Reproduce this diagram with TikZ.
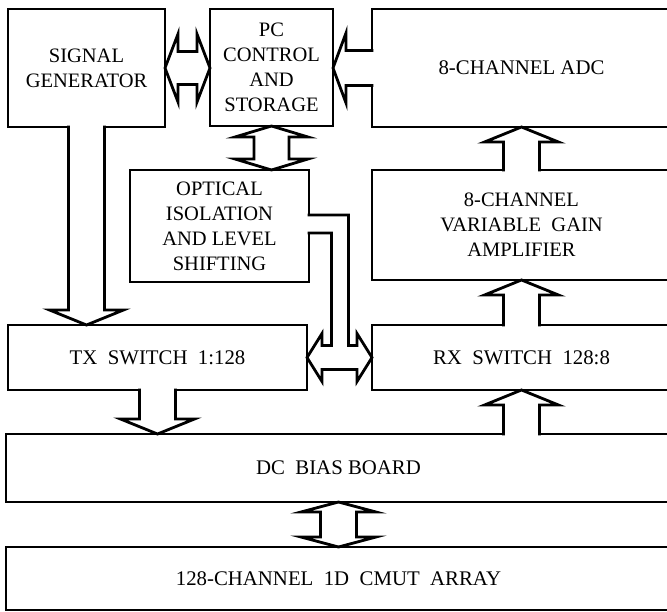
\documentclass[tikz,border=0pt]{standalone}
\usepackage{fontspec}
\setmainfont{Liberation Serif}
\usetikzlibrary{positioning,calc}

% block arrows: stem half-width / head half-width / head length
\tikzset{
  fatdim/.code args={#1/#2/#3}{%
    \pgfmathsetmacro\fatra{veclen(#3,#1)}%
    \pgfmathsetmacro\fatta{atan(#1/#3)}%
    \pgfmathsetmacro\fatrb{veclen(#3,#2)}%
    \pgfmathsetmacro\fattb{atan(#2/#3)}%
    \pgfmathsetmacro\fatrs{veclen(1.4,#1)}%
    \pgfmathsetmacro\fatts{180-atan(#1/1.4)}},
  fatdim=18/37/15,
  fatone/.style={line width=2.8pt, fill=white, to path={
    ($(\tikztostart)!\fatrs pt!\fatts:(\tikztotarget)$)
    -- ($(\tikztotarget)!\fatra pt!-\fatta:(\tikztostart)$)
    -- ($(\tikztotarget)!\fatrb pt!-\fattb:(\tikztostart)$)
    -- (\tikztotarget)
    -- ($(\tikztotarget)!\fatrb pt!\fattb:(\tikztostart)$)
    -- ($(\tikztotarget)!\fatra pt!\fatta:(\tikztostart)$)
    -- ($(\tikztostart)!\fatrs pt!-\fatts:(\tikztotarget)$)}},
  fattwo/.style={line width=2.8pt, fill=white, to path={
    -- ($(\tikztostart)!\fatrb pt!\fattb:(\tikztotarget)$)
    -- ($(\tikztostart)!\fatra pt!\fatta:(\tikztotarget)$)
    -- ($(\tikztotarget)!\fatra pt!-\fatta:(\tikztostart)$)
    -- ($(\tikztotarget)!\fatrb pt!-\fattb:(\tikztostart)$)
    -- (\tikztotarget)
    -- ($(\tikztotarget)!\fatrb pt!\fattb:(\tikztostart)$)
    -- ($(\tikztotarget)!\fatra pt!\fatta:(\tikztostart)$)
    -- ($(\tikztostart)!\fatra pt!-\fatta:(\tikztotarget)$)
    -- ($(\tikztostart)!\fatrb pt!-\fattb:(\tikztotarget)$)
    -- cycle}}
}

\begin{document}
\begin{tikzpicture}[
  x=1pt, y=-1pt,
  box/.style={draw, line width=2.8pt, outer sep=0pt, inner sep=0pt, align=center,
    font=\fontsize{20.5}{25}\selectfont},
  oneline/.style={font=\fontsize{20.8}{25}\selectfont},
  bus/.style={line width=2.8pt, fill=white}
]
\clip (0,0) rectangle (667,611);

\node[box, minimum width=157pt, minimum height=118pt, anchor=north west] (sg) at (8,9) {SIGNAL\\GENERATOR};
\node[box, minimum width=123pt, minimum height=117pt, right=45pt of sg.north east, anchor=north west] (pc) {PC\\CONTROL\\AND\\STORAGE};
\node[box, oneline, minimum width=299pt, minimum height=118pt, right=39pt of pc.north east, anchor=north west] (adc) {8-CHANNEL ADC};
\node[box, minimum width=299pt, minimum height=110pt, below=43pt of adc.south west, anchor=north west] (vga) {8-CHANNEL\\VARIABLE\ \ GAIN\\AMPLIFIER};
\node[box, oneline, minimum width=299pt, minimum height=65pt, below=45pt of vga.south west, anchor=north west] (rx) {RX\ \ SWITCH\ \ 128:8};
\node[box, minimum width=179pt, minimum height=112pt, anchor=north west] (opt) at (130,170) {OPTICAL\\ISOLATION\\AND LEVEL\\SHIFTING};
\node[box, oneline, minimum width=299pt, minimum height=65pt, anchor=north west] (tx) at (8,325) {TX\ \ SWITCH\ \ 1:128};
\node[box, oneline, minimum width=665pt, minimum height=68pt, anchor=north west] (dc) at (6,434) {DC\ \ BIAS BOARD};
\node[box, oneline, minimum width=665pt, minimum height=63pt, below=45pt of dc.south west, anchor=north west] (cmut) {128-CHANNEL\ \ 1D\ \ CMUT\ \ ARRAY};

\draw[fattwo, fatdim=16.5/34/13] (sg.east) to (pc.west |- sg.east);
\draw[fatone, fatdim=17.5/35/13] (adc.west) to (pc.east |- adc.west);
\draw[fattwo, fatdim=17.5/36.5/11] (pc.south) to (opt.north -| pc.south);
\draw[fatone] (sg.south) to (tx.north -| sg.south);
\draw[fatone] (tx.south) to (dc.north -| tx.south);
\draw[fatone] (vga.north) to (adc.south);
\draw[fatone] (rx.north) to (vga.south);
\draw[fatone] (dc.north -| rx.north) to (rx.south);
\draw[fattwo, fatdim=18/37.5/10] (dc.south) to (cmut.north);

% bus from the isolation board to both switches
\coordinate (mid) at ($(tx.east)!0.5!(rx.west)$);
\draw[bus] ($(opt.east)+(-1.4,-11)$) -- ($(mid |- opt.east)+(9,-11)$) -- ($(mid)+(9,-12)$)
  -- ($(rx.west)+(-15,-12)$) -- ($(rx.west)+(-15,-24)$) -- (rx.west)
  -- ($(rx.west)+(-15,24)$) -- ($(rx.west)+(-15,12)$) -- ($(tx.east)+(15,12)$)
  -- ($(tx.east)+(15,24)$) -- (tx.east) -- ($(tx.east)+(15,-24)$) -- ($(tx.east)+(15,-12)$)
  -- ($(mid)+(-8,-12)$) -- ($(mid |- opt.east)+(-8,7)$) -- ($(opt.east)+(-1.4,7)$);
\end{tikzpicture}
\end{document}
